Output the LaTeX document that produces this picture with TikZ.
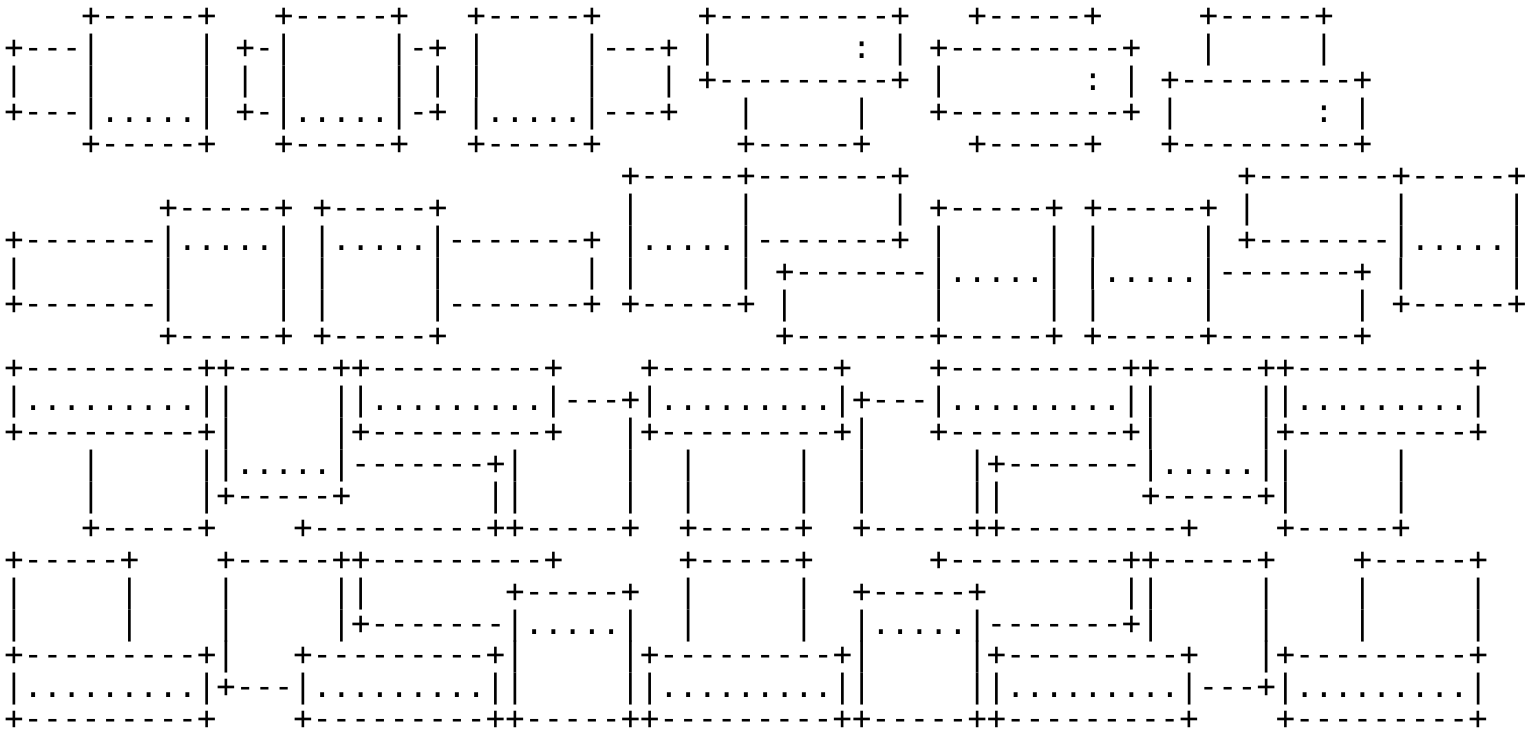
\documentclass[tikz,border=0pt]{standalone}
\usepackage{fontspec}
\setmonofont{DejaVu Sans Mono}
\newcommand\asciifont{\ttfamily\fontsize{32}{32}\selectfont}
\tikzset{asciirow/.style={anchor=base west, inner sep=0pt, outer sep=0pt, text depth=0pt, font=\asciifont, text=black}}
\begin{document}
\begin{tikzpicture}[x=1pt,y=1pt]
\fill[white] (0,0) rectangle (1535,731);
\useasboundingbox (0,0) rectangle (1535,731);
\def\rowx{4.4}
\def\rowy#1{731-27-31.95*#1}
\node[asciirow] (r0) at (\rowx,{\rowy{0}}) {~~~~+-----+~~~+-----+~~~+-----+~~~~~+---------+~~~+-----+~~~~~+-----+};
\node[asciirow] (r1) at (\rowx,{\rowy{1}}) {+---|~~~~~|~+-|~~~~~|-+~|~~~~~|---+~|~~~~~~~:~|~+---------+~~~|~~~~~|};
\node[asciirow] (r2) at (\rowx,{\rowy{2}}) {|~~~|~~~~~|~|~|~~~~~|~|~|~~~~~|~~~|~+---------+~|~~~~~~~:~|~+---------+};
\node[asciirow] (r3) at (\rowx,{\rowy{3}}) {+---|.....|~+-|.....|-+~|.....|---+~~~|~~~~~|~~~+---------+~|~~~~~~~:~|};
\node[asciirow] (r4) at (\rowx,{\rowy{4}}) {~~~~+-----+~~~+-----+~~~+-----+~~~~~~~+-----+~~~~~+-----+~~~+---------+};
\node[asciirow] (r5) at (\rowx,{\rowy{5}}) {~~~~~~~~~~~~~~~~~~~~~~~~~~~~~~~~+-----+-------+~~~~~~~~~~~~~~~~~+-------+-----+};
\node[asciirow] (r6) at (\rowx,{\rowy{6}}) {~~~~~~~~+-----+~+-----+~~~~~~~~~|~~~~~|~~~~~~~|~+-----+~+-----+~|~~~~~~~|~~~~~|};
\node[asciirow] (r7) at (\rowx,{\rowy{7}}) {+-------|.....|~|.....|-------+~|.....|-------+~|~~~~~|~|~~~~~|~+-------|.....|};
\node[asciirow] (r8) at (\rowx,{\rowy{8}}) {|~~~~~~~|~~~~~|~|~~~~~|~~~~~~~|~|~~~~~|~+-------|.....|~|.....|-------+~|~~~~~|};
\node[asciirow] (r9) at (\rowx,{\rowy{9}}) {+-------|~~~~~|~|~~~~~|-------+~+-----+~|~~~~~~~|~~~~~|~|~~~~~|~~~~~~~|~+-----+};
\node[asciirow] (r10) at (\rowx,{\rowy{10}}) {~~~~~~~~+-----+~+-----+~~~~~~~~~~~~~~~~~+-------+-----+~+-----+-------+};
\node[asciirow] (r11) at (\rowx,{\rowy{11}}) {+---------++-----++---------+~~~~+---------+~~~~+---------++-----++---------+};
\node[asciirow] (r12) at (\rowx,{\rowy{12}}) {|.........||~~~~~||.........|---+|.........|+---|.........||~~~~~||.........|};
\node[asciirow] (r13) at (\rowx,{\rowy{13}}) {+---------+|~~~~~|+---------+~~~|+---------+|~~~+---------+|~~~~~|+---------+};
\node[asciirow] (r14) at (\rowx,{\rowy{14}}) {~~~~|~~~~~||.....|-------+|~~~~~|~~|~~~~~|~~|~~~~~|+-------|.....||~~~~~|};
\node[asciirow] (r15) at (\rowx,{\rowy{15}}) {~~~~|~~~~~|+-----+~~~~~~~||~~~~~|~~|~~~~~|~~|~~~~~||~~~~~~~+-----+|~~~~~|};
\node[asciirow] (r16) at (\rowx,{\rowy{16}}) {~~~~+-----+~~~~+---------++-----+~~+-----+~~+-----++---------+~~~~+-----+};
\node[asciirow] (r17) at (\rowx,{\rowy{17}}) {+-----+~~~~+-----++---------+~~~~~~+-----+~~~~~~+---------++-----+~~~~+-----+};
\node[asciirow] (r18) at (\rowx,{\rowy{18}}) {|~~~~~|~~~~|~~~~~||~~~~~~~+-----+~~|~~~~~|~~+-----+~~~~~~~||~~~~~|~~~~|~~~~~|};
\node[asciirow] (r19) at (\rowx,{\rowy{19}}) {|~~~~~|~~~~|~~~~~|+-------|.....|~~|~~~~~|~~|.....|-------+|~~~~~|~~~~|~~~~~|};
\node[asciirow] (r20) at (\rowx,{\rowy{20}}) {+---------+|~~~+---------+|~~~~~|+---------+|~~~~~|+---------+~~~|+---------+};
\node[asciirow] (r21) at (\rowx,{\rowy{21}}) {|.........|+---|.........||~~~~~||.........||~~~~~||.........|---+|.........|};
\node[asciirow] (r22) at (\rowx,{\rowy{22}}) {+---------+~~~~+---------++-----++---------++-----++---------+~~~~+---------+};
\end{tikzpicture}
\end{document}
